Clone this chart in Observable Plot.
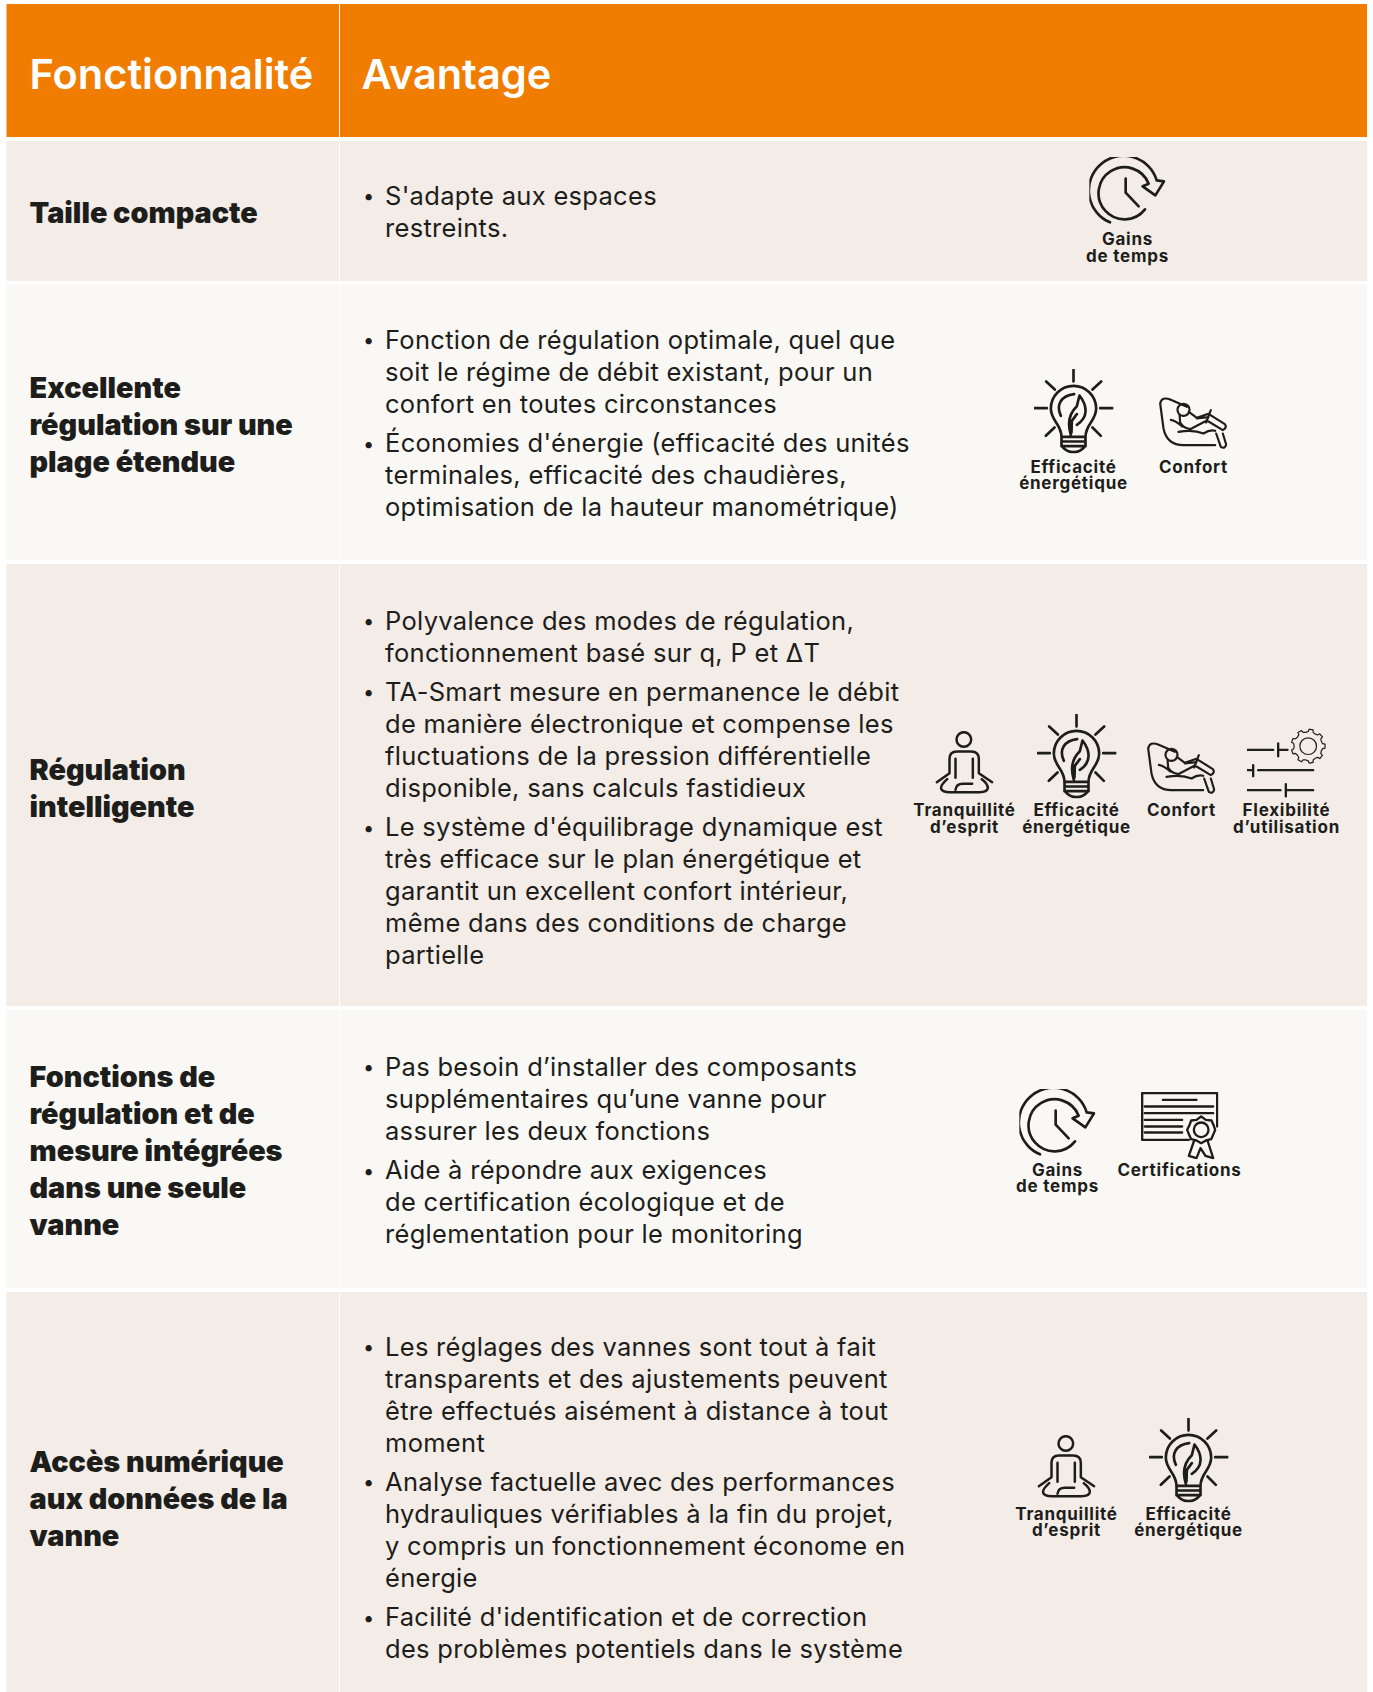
<!DOCTYPE html>
<html><head><meta charset="utf-8">
<script src="https://cdn.jsdelivr.net/npm/d3@7"></script>
<script src="https://cdn.jsdelivr.net/npm/@observablehq/plot@0.6"></script>
<style>
html,body{margin:0;padding:0;background:#fff}
svg{display:block}
g[font-size="25.5"]{letter-spacing:.3px}
g[font-size="17"]{letter-spacing:.75px}
</style></head><body>
<div id="chart"></div>
<script>
// ---------- content ----------
const headers = ["Fonctionnalité", "Avantage"];
const features = [
  ["Taille compacte"],
  ["Excellente", "régulation sur une", "plage étendue"],
  ["Régulation", "intelligente"],
  ["Fonctions de", "régulation et de", "mesure intégrées", "dans une seule", "vanne"],
  ["Accès numérique", "aux données de la", "vanne"]
];
const benefits = [
  [["S'adapte aux espaces", "restreints."]],
  [["Fonction de régulation optimale, quel que", "soit le régime de débit existant, pour un", "confort en toutes circonstances"],
   ["Économies d'énergie (efficacité des unités", "terminales, efficacité des chaudières,", "optimisation de la hauteur manométrique)"]],
  [["Polyvalence des modes de régulation,", "fonctionnement basé sur q, P et ΔT"],
   ["TA-Smart mesure en permanence le débit", "de manière électronique et compense les", "fluctuations de la pression différentielle", "disponible, sans calculs fastidieux"],
   ["Le système d'équilibrage dynamique est", "très efficace sur le plan énergétique et", "garantit un excellent confort intérieur,", "même dans des conditions de charge", "partielle"]],
  [["Pas besoin d’installer des composants", "supplémentaires qu’une vanne pour", "assurer les deux fonctions"],
   ["Aide à répondre aux exigences", "de certification écologique et de", "réglementation pour le monitoring"]],
  [["Les réglages des vannes sont tout à fait", "transparents et des ajustements peuvent", "être effectués aisément à distance à tout", "moment"],
   ["Analyse factuelle avec des performances", "hydrauliques vérifiables à la fin du projet,", "y compris un fonctionnement économe en", "énergie"],
   ["Facilité d'identification et de correction", "des problèmes potentiels dans le système"]]
];
const iconLabels = {
  temps: ["Gains", "de temps"],
  energie: ["Efficacité", "énergétique"],
  confort: ["Confort"],
  esprit: ["Tranquillité", "d’esprit"],
  flex: ["Flexibilité", "d’utilisation"],
  certif: ["Certifications"]
};
const rowIcons = [
  ["temps"],
  ["energie", "confort"],
  ["esprit", "energie", "confort", "flex"],
  ["temps", "certif"],
  ["esprit", "energie"]
];

// ---------- layout (page pixels) ----------
const W = 1373, H = 1692;
const colX = [6.5, 340, 1367];
const headerBand = [4, 137];
const rowBands = [[141, 281], [284, 560], [564, 1006], [1010, 1288], [1292, 1692]];
const titleCenter = [213, 425, 789, 1151, 1499];
const titleStep = 37;
const bodyFirst = [196.5, 340.5, 621, 1067.5, 1347];
const bodyStep = 32, bulletGap = 39.3;
const iconCx = [[1127], [1073, 1193], [964, 1076, 1181, 1286], [1057, 1179], [1066, 1188]];
const labelTop = [239.5, 467, 810.5, 1170, 1514];
const labelStep = 16.3;
const iconBottom = [225, 451, 796, 1157, 1500];
const iconNudge = {temps: -1.5, energie: 2, confort: -2, esprit: -2, flex: 1, certif: 2};

// ---------- icons (drawn in a 3x unit box) ----------
const gearTeeth = d3.range(9).map(i => {
  const a = i * 2 * Math.PI / 9, d = 0.17;
  const p = (r, t) => `${(1225 + r * Math.cos(t)).toFixed(1)},${(138 + r * Math.sin(t)).toFixed(1)}`;
  return `${p(42, a - 2 * d)} L${p(44, a - d)} L${p(51, a - d * .7)} L${p(51, a + d * .7)} L${p(44, a + d)} L${p(42, a + 2 * d)}`;
}).join(" L");
const iconDefs = {
  temps: {box: [568, 80, 229, 201], sw: 8, d:
    "M630,276 A104,104 0 1 1 770,150 L792,153 L766,195 L728,168 L746,160 A78,78 0 1 0 735,237 M677,145 V187 L716,228"},
  energie: {box: [400, 714, 240, 254], sw: 8, d:
    "M520,717 V752 M403,832 H440 M600,832 H637 M438,752 L464,776 M603,752 L577,776 M437,915 L463,890 M602,915 L577,890 " +
    "M484,918 C484,880 452,870 452,833 A68,68 0 0 1 588,833 C588,870 556,880 556,918 V945 Q540,964 520,964 Q500,964 484,945 Z " +
    "M484,918 H556 M484,932 H556 M484,946 H556 " +
    "M482,855 C466,820 484,795 522,790 M512,912 C502,880 505,850 530,826 L538,794 C562,825 565,860 530,882 M530,850 L515,870 L514,905"},
  confort: {box: [775, 795, 210, 158], sw: 6.5, d:
    "M860,825 L810,803 Q785,793 780,815 L790,890 Q800,940 850,940 L945,940 " +
    "M868,835 A18,18 0 1 1 832,833 A18,18 0 1 1 868,835 " +
    "M838,848 L840,872 Q848,888 870,892 L920,866 L968,895 Q982,887 974,877 L925,846 L890,858 L866,840 " +
    "M812,864 Q830,868 846,884 M835,900 Q880,892 910,905 Q930,892 945,897 M932,835 L918,872 M890,860 L925,856 " +
    "M948,905 L962,945 Q975,952 978,938 L968,905"},
  esprit: {box: [107, 90, 176, 192], sw: 7.5, d:
    "M215,117 A22,22 0 1 1 171,117 A22,22 0 1 1 215,117 " +
    "M112,245 L150,218 V175 Q150,153 172,153 H215 Q238,153 238,175 V218 L278,245 " +
    "M168,175 V232 M220,175 V232 M143,236 Q122,255 125,265 Q130,275 150,275 H240 Q265,275 265,262 Q265,250 247,236 " +
    "M168,268 Q170,250 190,250 H218"},
  flex: {box: [1040, 84, 240, 208], sw: 7, d:
    "M1042,149 H1120 M1135,130 V168 M1135,149 H1163 M1042,210 H1060 M1060,195 V228 M1075,210 H1240 " +
    "M1042,270 H1142 M1158,252 V290 M1158,270 H1240",
    thin: `M${gearTeeth} Z M1250,138 A25,25 0 1 1 1200,138 A25,25 0 1 1 1250,138`},
  certif: {box: [420, 65, 234, 204], sw: 7, d:
    "M565,210 H425 V70 H650 V170 M487,90 H588 M433,110 H638 M433,130 H638 M433,150 H545 M433,170 H545 M433,188 H545 " +
    "M602,140 L616,150 L633,152 L640,168 L644,180 L638,195 L632,208 L616,212 L602,220 L588,212 L572,208 L566,195 L560,180 L566,168 L572,152 L588,150 Z " +
    "M624,180 A22,22 0 1 1 580,180 A22,22 0 1 1 624,180 " +
    "M580,215 L565,258 L588,265 L600,235 L615,258 L638,265 L622,215"}
};
const iconSrc = Object.fromEntries(Object.entries(iconDefs).map(([k, v]) => {
  const paths = `<path d="${v.d}" stroke-width="${v.sw}"/>` + (v.thin ? `<path d="${v.thin}" stroke-width="3.6"/>` : "");
  const svg = `<svg xmlns="http://www.w3.org/2000/svg" viewBox="${v.box.join(" ")}" width="${v.box[2]}" height="${v.box[3]}"><g fill="none" stroke="#1d1d1b" stroke-linecap="round" stroke-linejoin="round">${paths}</g></svg>`;
  return [k, "data:image/svg+xml;charset=utf-8," + encodeURIComponent(svg)];
}));

// ---------- tables built for the marks ----------
const cells = rowBands.flatMap(([y1, y2], i) => [
  {x1: colX[0], x2: colX[1] - 1, y1, y2, i},
  {x1: colX[1], x2: colX[2], y1, y2, i}
]);
const headCells = [
  {x1: colX[0], x2: colX[1] - 1, y1: headerBand[0], y2: headerBand[1]},
  {x1: colX[1], x2: colX[2], y1: headerBand[0], y2: headerBand[1]}
];
const titleLines = features.flatMap((lines, r) => lines.map((t, k) => ({
  t, y: titleCenter[r] - (lines.length - 1) * titleStep / 2 + k * titleStep
})));
const bodyLines = [], bullets = [];
benefits.forEach((group, r) => {
  let y = bodyFirst[r];
  group.forEach(lines => {
    bullets.push({y});
    lines.forEach((t, k) => { bodyLines.push({t, y}); if (k < lines.length - 1) y += bodyStep; });
    y += bulletGap;
  });
});
const icons = rowIcons.flatMap((names, r) => names.map((name, k) => {
  const b = iconDefs[name].box;
  return {name, x: iconCx[r][k], w: b[2] / 3, h: b[3] / 3, y: iconBottom[r] + iconNudge[name] - b[3] / 6};
}));
const iconTexts = rowIcons.flatMap((names, r) => names.flatMap((name, k) =>
  iconLabels[name].map((t, j) => ({t, x: iconCx[r][k], y: labelTop[r] + j * labelStep}))
));

// ---------- plot ----------
const INK = "#1d1d1b";
const chart = Plot.plot({
  width: W, height: H,
  margin: 0,
  x: {type: "identity", axis: null},
  y: {type: "identity", axis: null},
  style: {background: "#fff"},
  marks: [
    Plot.rect(cells, {x1: "x1", x2: "x2", y1: "y1", y2: "y2", fill: d => d.i % 2 ? "#FAF8F4" : "#F3ECE7"}),
    Plot.rect(headCells, {x1: "x1", x2: "x2", y1: "y1", y2: "y2", fill: "#F07D00"}),
    Plot.text(headers, {x: (d, i) => i ? 361 : 29, y: () => 75, text: d => d, textAnchor: "start",
      fill: "#fff", fontFamily: "Inter", fontWeight: 600, fontSize: 41.5}),
    Plot.text(titleLines, {x: () => 29, y: "y", text: "t", textAnchor: "start",
      fill: INK, fontFamily: "Inter", fontWeight: 900, fontSize: 28.8}),
    Plot.text(bullets, {x: () => 368, y: "y", text: () => "•", textAnchor: "middle",
      fill: INK, fontFamily: "Inter", fontSize: 20}),
    Plot.text(bodyLines, {x: () => 384.5, y: "y", text: "t", textAnchor: "start",
      fill: INK, fontFamily: "Inter", fontWeight: 400, fontSize: 25.5}),
    Plot.image(icons, {x: "x", y: "y", width: "w", height: "h", src: d => iconSrc[d.name], preserveAspectRatio: "xMidYMid meet"}),
    Plot.text(iconTexts, {x: "x", y: "y", text: "t", textAnchor: "middle",
      fill: INK, fontFamily: "Inter", fontWeight: 700, fontSize: 17})
  ]
});
document.getElementById("chart").append(chart);
</script>
</body></html>
